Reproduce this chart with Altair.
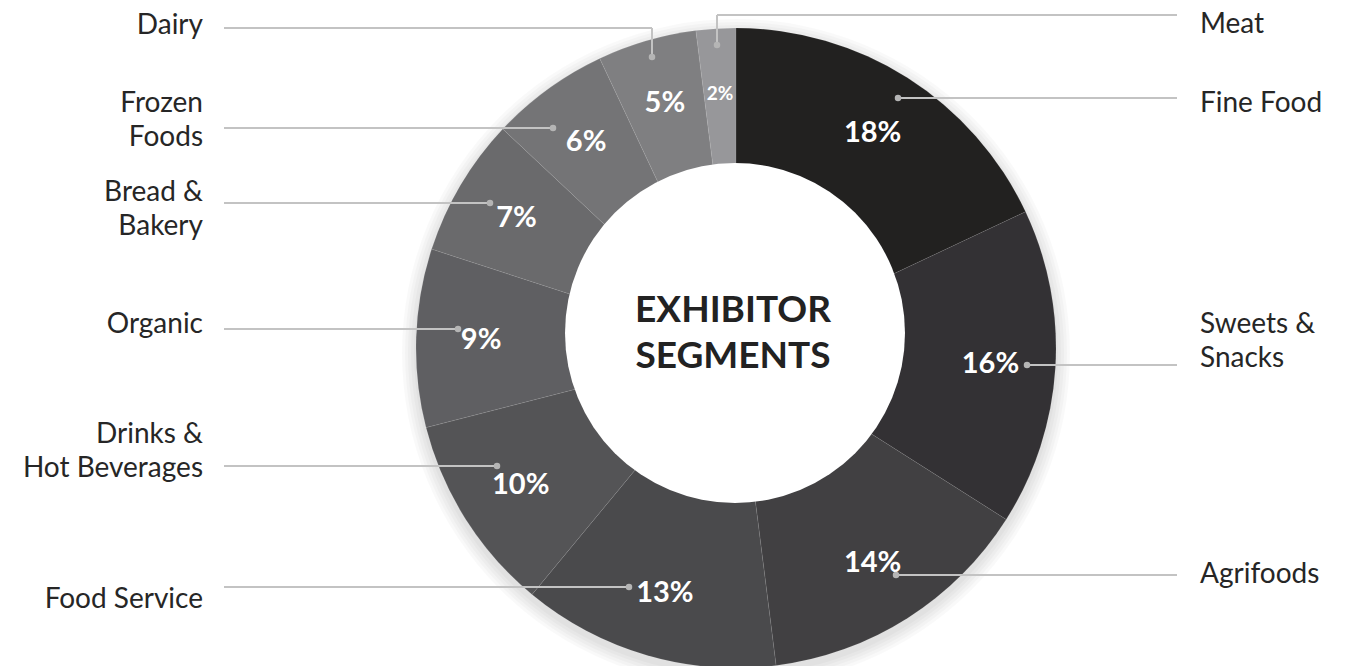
import math
import altair as alt
import pandas as pd

# ---- data ----
categories = ["Fine Food", "Sweets & Snacks", "Agrifoods", "Food Service",
              "Drinks & Hot Beverages", "Organic", "Bread & Bakery",
              "Frozen Foods", "Dairy", "Meat"]
shares = [18, 16, 14, 13, 10, 9, 7, 6, 5, 2]
label_text = ["Fine Food", "Sweets &\nSnacks", "Agrifoods", "Food Service",
              "Drinks &\nHot Beverages", "Organic", "Bread &\nBakery",
              "Frozen\nFoods", "Dairy", "Meat"]
colors = ["#222120", "#333134", "#414042", "#4a4a4c", "#545456",
          "#5f5f62", "#6a6a6c", "#747476", "#7f7f81", "#97979a"]
title_text = "EXHIBITOR\nSEGMENTS"

# ---- layout (annotation placement, pixels) ----
W, H = 1354, 666
CX, CY, R_OUT = 736, 348, 320
HOLE_X, HOLE_Y, R_IN = 735, 333, 170
side = ["right", "right", "right", "left", "left", "left", "left", "left", "left", "right"]
first_baseline = [112, 333, 583, 608, 443, 333, 201, 112, 34, 33]
dot_x = [898, 1027, 896, 629, 497, 458, 490, 553, 652, 717]
dot_y = [98, 365, 575, 587, 466, 329, 203, 128, 57, 45]
leader_y = [98, 365, 575, 587, 466, 329, 203, 128, 28, 15]
LEFT_END, RIGHT_END = 224, 1177
LEFT_TEXT, RIGHT_TEXT = 203, 1200

FONT = "Lato"

df = pd.DataFrame({
    "cat": categories, "share": shares, "idx": list(range(len(categories))),
    "pct": [f"{s}%" for s in shares],
})

xs = alt.Scale(domain=[0, W], nice=False, zero=False)
ys = alt.Scale(domain=[0, H], nice=False, zero=False, reverse=True)

# shadow rings
shadow_layers = []
for r in [322, 325, 328, 331, 334]:
    shadow_layers.append(
        alt.Chart(alt.Data(values=[{"a": 1}])).mark_arc(
            theta=0, theta2=2 * math.pi, radius=r, radius2=0,
            color="#000000", opacity=0.025
        ).encode(x=alt.value(CX), y=alt.value(CY + 5))
    )

pie = alt.Chart(df).mark_arc(
    radius=R_OUT, radius2=0, stroke="#ffffff", strokeOpacity=0.08, strokeWidth=1
).encode(
    theta=alt.Theta("share:Q", stack=True),
    order=alt.Order("idx:Q"),
    color=alt.Color("cat:N", scale=alt.Scale(domain=categories, range=colors), legend=None),
    x=alt.value(CX), y=alt.value(CY),
)

hole = alt.Chart(alt.Data(values=[{"a": 1}])).mark_arc(
    theta=0, theta2=2 * math.pi, radius=R_IN, radius2=0, color="#ffffff"
).encode(x=alt.value(HOLE_X), y=alt.value(HOLE_Y))

pct = alt.Chart(df).mark_text(
    radius=255, font=FONT, fontWeight="bold", color="#ffffff", baseline="middle", align="center"
).encode(
    theta=alt.Theta("share:Q", stack=True),
    order=alt.Order("idx:Q"),
    text="pct:N",
    size=alt.condition(alt.datum.share < 3, alt.value(19), alt.value(29)),
    x=alt.value(CX), y=alt.value(CY),
)

# leader segments
segs = []
for i, c in enumerate(categories):
    end_x = RIGHT_END if side[i] == "right" else LEFT_END
    if leader_y[i] != dot_y[i]:
        segs.append({"cat": c, "x": dot_x[i], "y": dot_y[i], "x2": dot_x[i], "y2": leader_y[i]})
    segs.append({"cat": c, "x": dot_x[i], "y": leader_y[i], "x2": end_x, "y2": leader_y[i]})
seg_df = pd.DataFrame(segs)

leaders = alt.Chart(seg_df).mark_rule(color="#c3c3c3", strokeWidth=2).encode(
    x=alt.X("x:Q", scale=xs, axis=None), x2="x2:Q",
    y=alt.Y("y:Q", scale=ys, axis=None), y2="y2:Q",
)

ann = pd.DataFrame({
    "cat": categories, "label": label_text, "side": side,
    "tx": [RIGHT_TEXT if s == "right" else LEFT_TEXT for s in side],
    "ty": first_baseline, "dx": dot_x, "dy": dot_y,
})

dots = alt.Chart(ann).mark_point(filled=True, color="#b5b5b5", opacity=1, size=42).encode(
    x=alt.X("dx:Q", scale=xs, axis=None), y=alt.Y("dy:Q", scale=ys, axis=None)
)

lbl_right = alt.Chart(ann).transform_filter(alt.datum.side == "right").mark_text(
    align="left", baseline="alphabetic", lineBreak="\n", lineHeight=34,
    font=FONT, fontSize=28, color="#262626"
).encode(x=alt.X("tx:Q", scale=xs, axis=None), y=alt.Y("ty:Q", scale=ys, axis=None), text="label:N")

lbl_left = alt.Chart(ann).transform_filter(alt.datum.side == "left").mark_text(
    align="right", baseline="alphabetic", lineBreak="\n", lineHeight=34,
    font=FONT, fontSize=28, color="#262626"
).encode(x=alt.X("tx:Q", scale=xs, axis=None), y=alt.Y("ty:Q", scale=ys, axis=None), text="label:N")

center = alt.Chart(alt.Data(values=[{"t": title_text}])).mark_text(
    align="center", baseline="alphabetic", lineBreak="\n", lineHeight=46,
    font=FONT, fontSize=37, fontWeight="bold", color="#222222"
).encode(x=alt.value(733), y=alt.value(322), text="t:N")

chart = alt.layer(
    *shadow_layers, pie, hole, pct, leaders, dots, lbl_right, lbl_left, center
).properties(
    width=W, height=H, padding=0, autosize=alt.AutoSizeParams(type="none"),
    background="#ffffff"
).configure_view(stroke=None)

chart.save("out.html", embed_options={"renderer": "svg", "actions": False})
